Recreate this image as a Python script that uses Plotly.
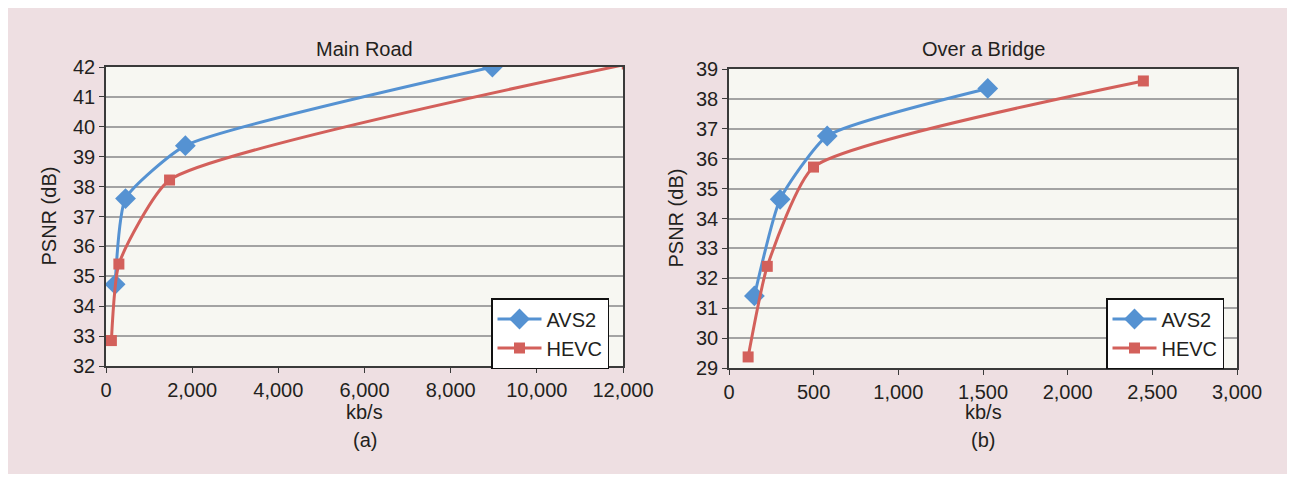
import plotly.graph_objects as go

# ---- data ----
road_avs2_x = [212, 453, 1842, 8968]
road_avs2_y = [34.73, 37.6, 39.37, 42.0]
road_hevc_x = [125, 299, 1475, 12100]
road_hevc_y = [32.85, 35.41, 38.22, 42.1]

bridge_avs2_x = [150, 302, 580, 1528]
bridge_avs2_y = [31.41, 34.64, 36.76, 38.35]
bridge_hevc_x = [113, 226, 499, 2447]
bridge_hevc_y = [29.37, 32.40, 35.72, 38.60]

series_names = ["AVS2", "HEVC"]
titles = ["Main Road", "Over a Bridge"]
panel_labels = ["(a)", "(b)"]
x_title = "kb/s"
y_title = "PSNR (dB)"

BLUE = "#5592d2"
RED = "#d3605b"
OFF = 8                 # page body margin
W, H = 1295 - 2 * OFF, 482 - 2 * OFF
FONT = "Liberation Sans, Arial, sans-serif"
TXT = "#231f20"
FS = 20

fig = go.Figure()


def add_pair(xa, ya, xh, yh, xref, yref, legend):
    fig.add_trace(go.Scatter(x=xa, y=ya, name=series_names[0], mode="lines+markers",
                             line=dict(color=BLUE, width=3, shape="spline", smoothing=0.5),
                             marker=dict(symbol="diamond", size=16, color=BLUE),
                             xaxis=xref, yaxis=yref, legend=legend))
    fig.add_trace(go.Scatter(x=xh, y=yh, name=series_names[1], mode="lines+markers",
                             line=dict(color=RED, width=3, shape="spline", smoothing=0.5),
                             marker=dict(symbol="square", size=11, color=RED),
                             xaxis=xref, yaxis=yref, legend=legend))


add_pair(road_avs2_x, road_avs2_y, road_hevc_x, road_hevc_y, "x", "y", "legend")
add_pair(bridge_avs2_x, bridge_avs2_y, bridge_hevc_x, bridge_hevc_y, "x2", "y2", "legend2")


def px_x(p):
    return (p - OFF) / W


def px_y(p):
    return 1 - (p - OFF) / H


axis_common = dict(showline=True, linecolor="#3a3a3a", linewidth=1.5, mirror=True,
                   ticks="outside", ticklen=5, tickcolor="#3a3a3a", automargin=False,
                   tickfont=dict(family=FONT, size=FS, color=TXT), zeroline=False)

legend_common = dict(xanchor="left", yanchor="top", bgcolor="white", bordercolor="#111",
                     borderwidth=1.5, font=dict(size=FS, family=FONT, color=TXT),
                     tracegroupgap=0, itemwidth=44)

L = (106, 623, 67, 366)
R = (729, 1237, 69, 368)

fig.update_layout(
    width=W, height=H, autosize=False,
    margin=dict(l=0, r=0, t=0, b=0, pad=0, autoexpand=False),
    paper_bgcolor="#eedfe2",
    plot_bgcolor="#f7f7f2",
    font=dict(family=FONT, color=TXT),
    xaxis=dict(domain=[px_x(L[0]), px_x(L[1])], range=[0, 12000], dtick=2000, tickformat=",d",
               showgrid=False, anchor="y", **axis_common),
    yaxis=dict(domain=[px_y(L[3]), px_y(L[2])], range=[32, 42], dtick=1,
               showgrid=True, gridcolor="#a3a3a3", gridwidth=1.5, anchor="x", **axis_common),
    xaxis2=dict(domain=[px_x(R[0]), px_x(R[1])], range=[0, 3000], dtick=500, tickformat=",d",
                showgrid=False, anchor="y2", **axis_common),
    yaxis2=dict(domain=[px_y(R[3]), px_y(R[2])], range=[29, 39], dtick=1,
                showgrid=True, gridcolor="#a3a3a3", gridwidth=1.5, anchor="x2", **axis_common),
    legend=dict(x=px_x(491), y=px_y(298), **legend_common),
    legend2=dict(x=px_x(1106), y=px_y(298), **legend_common),
)

annots = [
    (px_x((L[0] + L[1]) / 2), px_y(49), titles[0], 0),
    (px_x((R[0] + R[1]) / 2), px_y(49), titles[1], 0),
    (px_x((L[0] + L[1]) / 2), px_y(412), x_title, 0),
    (px_x((R[0] + R[1]) / 2), px_y(412), x_title, 0),
    (px_x((L[0] + L[1]) / 2), px_y(440), panel_labels[0], 0),
    (px_x((R[0] + R[1]) / 2), px_y(440), panel_labels[1], 0),
    (px_x(48), px_y((L[2] + L[3]) / 2), y_title, -90),
    (px_x(675), px_y((R[2] + R[3]) / 2), y_title, -90),
]
for x, y, t, ang in annots:
    fig.add_annotation(x=x, y=y, xref="paper", yref="paper", text=t, showarrow=False,
                       textangle=ang,
                       font=dict(size=FS, family=FONT, color=TXT), xanchor="center", yanchor="middle")

fig.write_html("out.html")
